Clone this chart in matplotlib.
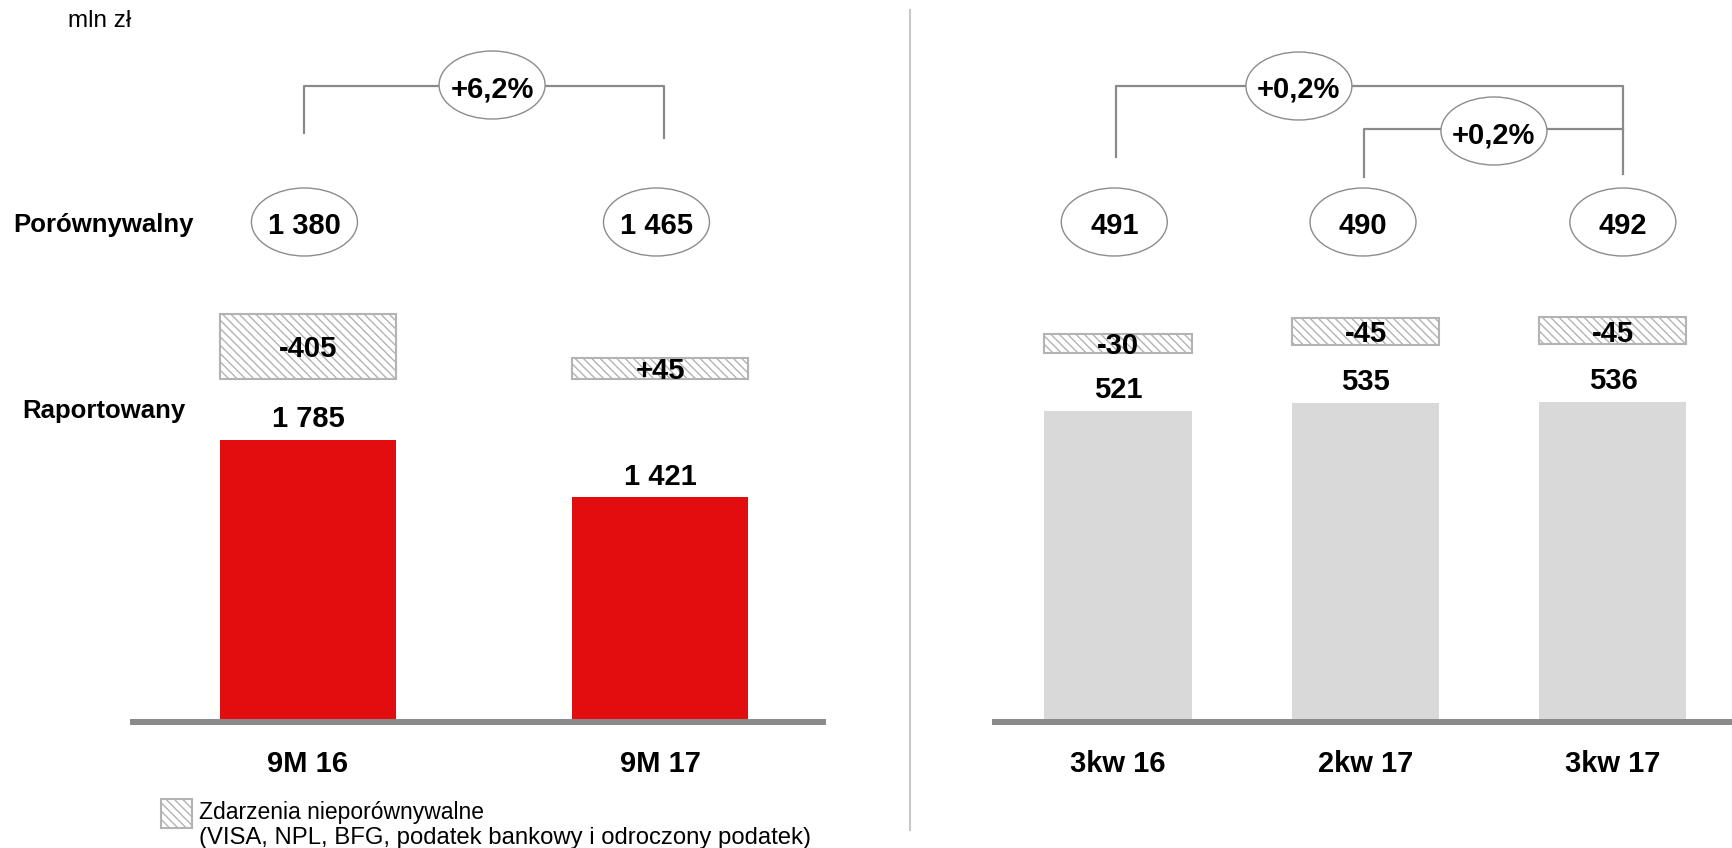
#!/usr/bin/env python3
"""Net profit: reported vs comparable, 9M and quarterly view"""

import matplotlib
matplotlib.use('Agg')
import matplotlib.pyplot as plt
import matplotlib.transforms as mtransforms
from matplotlib.patches import Ellipse, Rectangle
from matplotlib.lines import Line2D

# --- data ---------------------------------------------------------------
ytd_periods = ['9M 16', '9M 17']
ytd_reported = [1785, 1421]
ytd_adjust = [-405, 45]
ytd_comparable = [1380, 1465]
ytd_change = '+6,2%'

q_periods = ['3kw 16', '2kw 17', '3kw 17']
q_reported = [521, 535, 536]
q_adjust = [-30, -45, -45]
q_comparable = [491, 490, 492]
q_change_yoy = '+0,2%'
q_change_qoq = '+0,2%'

legend_lines = ['Zdarzenia nieporównywalne',
                '(VISA, NPL, BFG, podatek bankowy i odroczony podatek)']

# --- style --------------------------------------------------------------
plt.rcParams['font.family'] = ['Liberation Sans', 'DejaVu Sans']
RED = '#e30c0e'
LIGHT = '#d9d9d9'
LINE = '#8a8a8a'
BOX_EDGE = '#b3b3b3'
plt.rcParams['hatch.linewidth'] = 1.0
NUM_FS = 21

W, H = 1733, 848
BASE = 722  # baseline, pixels from top

fig = plt.figure(figsize=(W / 100, H / 100), dpi=100)
# pixel coords measured from top-left
px = mtransforms.Affine2D().scale(1 / W, -1 / H).translate(0, 1) + fig.transFigure


def add_px_axes(x0, x1, y0, y1):
    return fig.add_axes([x0 / W, 1 - y1 / H, (x1 - x0) / W, (y1 - y0) / H])


def fmt(v):
    return f"{v:,}".replace(',', ' ')


def setup_panel(ax, periods, xlim, ymax):
    for s in ax.spines.values():
        s.set_visible(False)
    ax.set_yticks([])
    ax.set_xticks(range(len(periods)), periods, fontsize=NUM_FS, fontweight='bold')
    ax.tick_params(axis='x', length=0, pad=20.5)
    ax.axhline(0, color=LINE, lw=4.3, clip_on=False, zorder=5)
    ax.set_xlim(*xlim)
    ax.set_ylim(0, ymax)
    ax.patch.set_visible(False)


def ellipse(ax, x, y_px, w, label):
    blend = mtransforms.blended_transform_factory(ax.transData, px)
    e = Ellipse((x, y_px), w, 68, transform=blend, facecolor='white',
                edgecolor='#8c8c8c', lw=1.0, zorder=3, clip_on=False)
    ax.add_patch(e)
    ax.text(x, y_px + 4, label, transform=blend, ha='center', va='center',
            fontsize=NUM_FS, fontweight='bold', zorder=4, clip_on=False)


def bracket(ax, xs, ys):
    blend = mtransforms.blended_transform_factory(ax.transData, px)
    ax.plot(xs, ys, transform=blend, color=LINE, lw=1.6, zorder=1,
            clip_on=False, scalex=False, scaley=False)


def hatched_boxes(ax, xs, bottoms, heights, width, labels, scale):
    ax.bar(xs, heights, width=width, bottom=bottoms, color='white',
           edgecolor=BOX_EDGE, hatch='\\\\\\\\', lw=1.5, zorder=2)
    for x, b, h, lab in zip(xs, bottoms, heights, labels):
        ax.text(x, b + h / 2 - 3 / scale, lab, ha='center', va='center',
                fontsize=NUM_FS, fontweight='bold', zorder=4)


# --- left panel: 9M -----------------------------------------------------
s_left = 0.158    # px per unit
ax1 = add_px_axes(133, 823, 0, BASE)
x1 = list(range(len(ytd_periods)))
ax1.bar(x1, ytd_reported, width=0.5, color=RED, zorder=2)
for x, v in zip(x1, ytd_reported):
    ax1.annotate(fmt(v), (x, v), xytext=(0, 15), textcoords='offset points',
                 ha='center', va='center', fontsize=NUM_FS, fontweight='bold')

box_bottom = (BASE - 379) / s_left
box_h_px = [65, 21]
hatched_boxes(ax1, x1, [box_bottom] * 2, [h / s_left for h in box_h_px], 0.5,
              [f"{v:+d}" for v in ytd_adjust], s_left)

ellipse_w1 = 106 / 352
for x, v in zip(x1, ytd_comparable):
    ellipse(ax1, x - 0.01, 222, ellipse_w1, fmt(v))
bracket(ax1, [-0.01, -0.01, 1.01, 1.01], [133, 86, 86, 138])
ellipse(ax1, 0.523, 85, ellipse_w1, ytd_change)
setup_panel(ax1, ytd_periods, (-0.497, 1.463), BASE / s_left)

# --- right panel: quarters ---------------------------------------------
s_right = 0.597
ax2 = add_px_axes(995, 1733, 0, BASE)
x2 = list(range(len(q_periods)))
ax2.bar(x2, q_reported, width=0.594, color=LIGHT, zorder=2)
for x, v in zip(x2, q_reported):
    ax2.annotate(fmt(v), (x, v), xytext=(0, 15), textcoords='offset points',
                 ha='center', va='center', fontsize=NUM_FS, fontweight='bold')

q_box_h_px = [19, 27, 27]
hatched_boxes(ax2, x2, [v + 58 / s_right for v in q_reported],
              [h / s_right for h in q_box_h_px], 0.594,
              [f"{v:+d}" for v in q_adjust], s_right)

ellipse_w2 = 106 / 247.5
for x, dx, v in zip(x2, [-0.015, -0.01, 0.04], q_comparable):
    ellipse(ax2, x + dx, 222, ellipse_w2, fmt(v))
bracket(ax2, [-0.008, -0.008, 2.04, 2.04], [157, 86, 86, 174])
bracket(ax2, [0.994, 0.994, 2.04], [177, 129, 129])
ellipse(ax2, 0.731, 86, ellipse_w2, q_change_yoy)
ellipse(ax2, 1.519, 131, ellipse_w2, q_change_qoq)
setup_panel(ax2, q_periods, (-0.497, 2.485), BASE / s_right)

# --- figure-level labels ------------------------------------------------
fig.text(68, 21, 'mln zł', transform=px, ha='left', va='center', fontsize=17.5)
fig.text(13, 225, 'Porównywalny', transform=px, ha='left', va='center',
         fontsize=18.5, fontweight='bold')
fig.text(22, 411, 'Raportowany', transform=px, ha='left', va='center',
         fontsize=18.5, fontweight='bold')

fig.add_artist(Line2D([910, 910], [10, 830], transform=px, color='#c8c8c8', lw=1.5))

fig.add_artist(Rectangle((161, 799), 31, 29, transform=px, facecolor='white',
                         edgecolor=BOX_EDGE, hatch='\\\\\\\\', lw=1.5))
fig.text(199, 812, legend_lines[0], transform=px, ha='left', va='center', fontsize=16.5)
fig.text(199, 838, legend_lines[1], transform=px, ha='left', va='center', fontsize=17.2)

fig.savefig('out.png', dpi=100)
print("Saved: out.png")
